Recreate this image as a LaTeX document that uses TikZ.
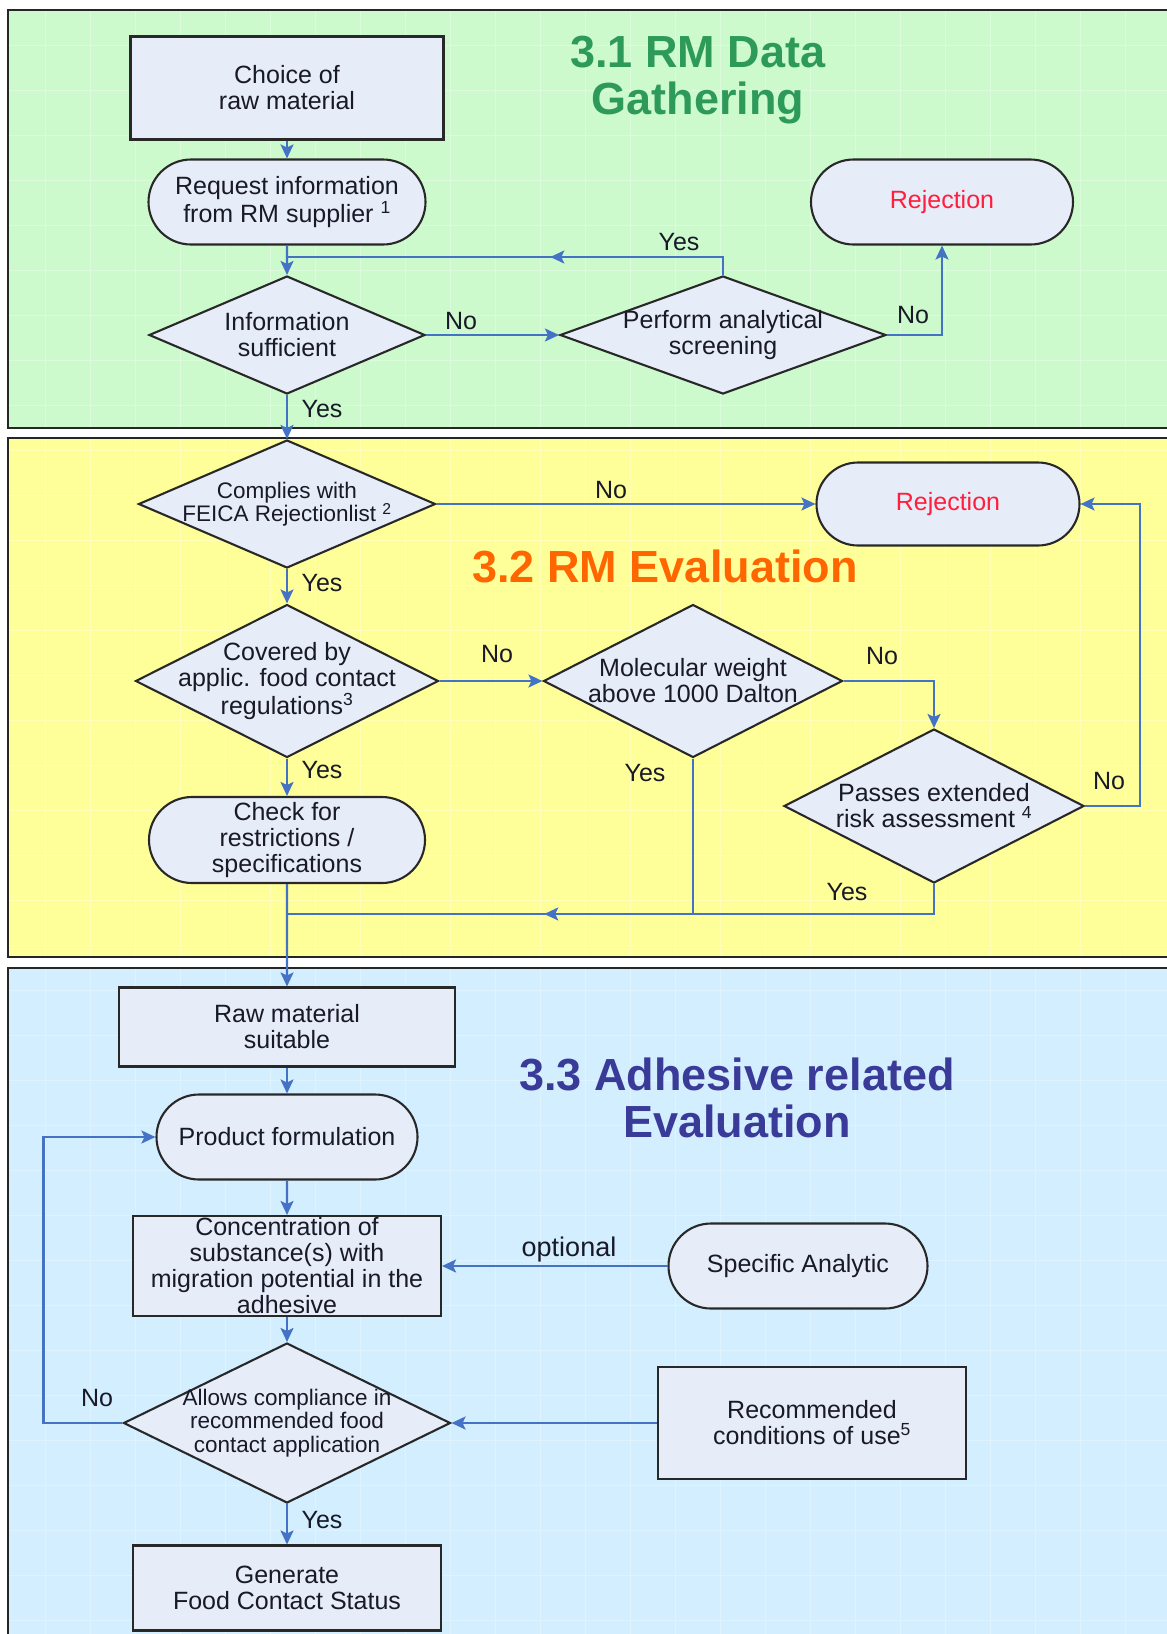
\documentclass[tikz,border=0pt]{standalone}
\usepackage{fontspec}
\setmainfont{Liberation Sans}
\usetikzlibrary{shapes.geometric,shapes.misc,arrows.meta,decorations.markings}

\definecolor{gatherbg}{RGB}{205,250,205}
\definecolor{evalbg}{RGB}{255,255,153}
\definecolor{adhesbg}{RGB}{210,238,255}
\definecolor{nodefill}{RGB}{230,236,248}
\definecolor{nodeline}{RGB}{40,40,40}
\definecolor{flowblue}{RGB}{68,114,196}
\definecolor{txt}{RGB}{25,25,40}
\definecolor{gathertitle}{RGB}{46,154,90}
\definecolor{evaltitle}{RGB}{255,102,0}
\definecolor{adhestitle}{RGB}{58,58,152}
\definecolor{rejred}{RGB}{255,30,60}

\newcommand\flowfont{\fontsize{25}{26}\selectfont}
\newcommand\flowsmall{\fontsize{22.5}{23.5}\selectfont}
\newcommand\headfont{\fontsize{45}{46.5}\selectfont\bfseries}

\begin{document}
\begin{tikzpicture}[x=1pt, y=-1pt,
    process/.style={rectangle, draw=nodeline, line width=2.1pt, fill=nodefill, text=txt, align=center, font=\flowfont, inner sep=0pt},
    terminal/.style={process, rounded rectangle},
    decision/.style={process, diamond},
    labtext/.style={text=txt, align=center, font=\flowfont},
    plain/.style={color=flowblue, line width=2.2pt},
    flow/.style={plain, -{Stealth[length=14pt, width=13pt, inset=3pt]}},
    midflow/.style={plain, postaction={decorate}, decoration={markings, mark=at position #1 with {\arrow{Stealth[length=14pt, width=13pt, inset=3pt]}}}},
    answer/.style={text=txt, font=\flowfont},
    panel/.style={draw=black!85, line width=2.5pt},
    gridline/.style={white, opacity=0.3, line width=1pt},
  ]
            \def \xmain   {287}
            \def \xscreen {723}
            \def \xrej    {942}
            \def \xmolw   {693}
            \def \xrisk   {934}

            \useasboundingbox (0,0) rectangle (1167,1634);
            \clip (0,0) rectangle (1167,1634);
% panels
            \foreach \ytop/\ybot/\bgcol in {10/428/gatherbg, 438/957/evalbg, 968/1660/adhesbg} {
                \fill[\bgcol] (8,\ytop) rectangle (1195,\ybot);
                \begin{scope}
                    \clip (8,\ytop) rectangle (1195,\ybot);
                    \draw[gridline, step=45pt] (8,\ytop) grid (1195,\ybot);
                \end{scope}
                \draw[panel] (8,\ytop) rectangle (1195,\ybot);
            }

% titles
            \node[font=\headfont, text=gathertitle, align=center] (headgather) at (698,80) {3.1 RM Data\\Gathering};
            \node[font=\headfont, text=evaltitle] (headeval) at (665,566) {3.2 RM Evaluation};
            \node[font=\headfont, text=adhestitle, align=center] (headadhes) at (737,1098) {3.3 Adhesive related\\Evaluation};

% data gathering
            \node[process, minimum width=313pt, minimum height=103pt] (choice) at (\xmain,88) {Choice of\\raw material};
            \node[terminal, minimum width=277pt, minimum height=85pt] (request) at (\xmain,202) {Request information\\from RM supplier \textsuperscript{1}};
            \node[decision, minimum width=276pt, minimum height=118pt, label={[labtext]center:{Information\\sufficient}}] (info) at (\xmain,335) {};
            \node[decision, minimum width=326pt, minimum height=118pt, label={[labtext]center:{Perform analytical\\screening}}] (screen) at (\xscreen,335) {};
            \node[terminal, minimum width=262pt, minimum height=85pt, text=rejred] (rejgather) at (\xrej,202) {Rejection};
            \coordinate (joingather) at (\xmain,257);

% evaluation
            \node[decision, minimum width=297pt, minimum height=128pt, label={[labtext, font=\flowsmall]center:{Complies with\\FEICA Rejectionlist \textsuperscript{2}}}] (feica) at (\xmain,504) {};
            \node[terminal, minimum width=263pt, minimum height=83pt, text=rejred] (rejeval) at (948,504) {Rejection};
            \node[decision, minimum width=303pt, minimum height=153pt, label={[labtext]center:{Covered by\\applic. food contact\\regulations\textsuperscript{3}}}] (covered) at (\xmain,681) {};
            \node[decision, minimum width=299pt, minimum height=153pt, label={[labtext]center:{Molecular weight\\above 1000 Dalton}}] (molw) at (\xmolw,681) {};
            \node[decision, minimum width=300pt, minimum height=154pt, label={[labtext]center:{Passes extended\\risk assessment \textsuperscript{4}}}] (risk) at (\xrisk,806) {};
            \node[terminal, minimum width=276pt, minimum height=86pt] (check) at (\xmain,840) {Check for\\restrictions /\\specifications};
            \coordinate (joineval) at (\xmain,914);

% adhesive evaluation
            \node[process, minimum width=336pt, minimum height=79pt] (suitable) at (\xmain,1027) {Raw material\\suitable};
            \node[terminal, minimum width=261pt, minimum height=85pt] (formul) at (\xmain,1137) {Product formulation};
            \node[process, minimum width=308pt, minimum height=100pt] (conc) at (\xmain,1266) {Concentration of\\substance(s) with\\migration potential in the\\adhesive};
            \node[terminal, minimum width=259pt, minimum height=85pt] (analytic) at (798,1266) {Specific Analytic};
            \node[decision, minimum width=327pt, minimum height=160pt, label={[labtext, font=\flowsmall]center:{Allows compliance in\\recommended food\\contact application}}] (allows) at (\xmain,1423) {};
            \node[process, minimum width=308pt, minimum height=112pt] (condit) at (812,1423) {Recommended\\conditions of use\textsuperscript{5}};
            \node[process, minimum width=308pt, minimum height=85pt] (status) at (\xmain,1588) {Generate\\Food Contact Status};

% connectors
            \draw[flow] (choice) -- (request);
            \draw[flow] (request) -- (info);
            \draw[flow] (info) -- (screen);
            \draw[midflow=0.42] (screen.north) |- (joingather);
            \draw[flow] (screen.east) -| (rejgather.south);
            \draw[flow] (info) -- (feica);
            \draw[flow] (feica) -- (rejeval);
            \draw[flow] (feica) -- (covered);
            \draw[flow] (covered) -- (molw);
            \draw[flow] (molw.east) -| (risk.north);
            \draw[flow] (risk.east) -- ++(55,0) |- (rejeval.east);
            \draw[midflow=0.62] (risk.south) |- (joineval);
            \draw[plain] (molw.south) -- (molw.south |- joineval);
            \draw[flow] (covered) -- (check);
            \draw[flow] (check) -- (suitable);
            \draw[flow] (suitable) -- (formul);
            \draw[flow] (formul) -- (conc);
            \draw[flow] (analytic) -- (conc);
            \draw[flow] (conc) -- (allows);
            \draw[flow] (condit) -- (allows);
            \draw[flow] (allows.west) -- ++(-79,0) |- (formul.west);
            \draw[flow] (allows) -- (status);

% answers
            \node[answer] (yesscreen) at (679,242) {Yes};
            \node[answer] (noinfo)    at (461,321) {No};
            \node[answer] (noscreen)  at (913,315) {No};
            \node[answer] (yesinfo)   at (322,409) {Yes};
            \node[answer] (nofeica)   at (611,490) {No};
            \node[answer] (yesfeica)  at (322,583) {Yes};
            \node[answer] (nocovered) at (497,654) {No};
            \node[answer] (nomolw)    at (882,656) {No};
            \node[answer] (yesmolw)   at (645,773) {Yes};
            \node[answer] (yescovered) at (322,770) {Yes};
            \node[answer] (norisk)    at (1109,781) {No};
            \node[answer] (yesrisk)   at (847,892) {Yes};
            \node[answer, font=\fontsize{27}{28}\selectfont] (optional) at (569,1250) {optional};
            \node[answer] (noallows)  at (97,1398) {No};
            \node[answer] (yesallows) at (322,1520) {Yes};
        \end{tikzpicture}
\end{document}
